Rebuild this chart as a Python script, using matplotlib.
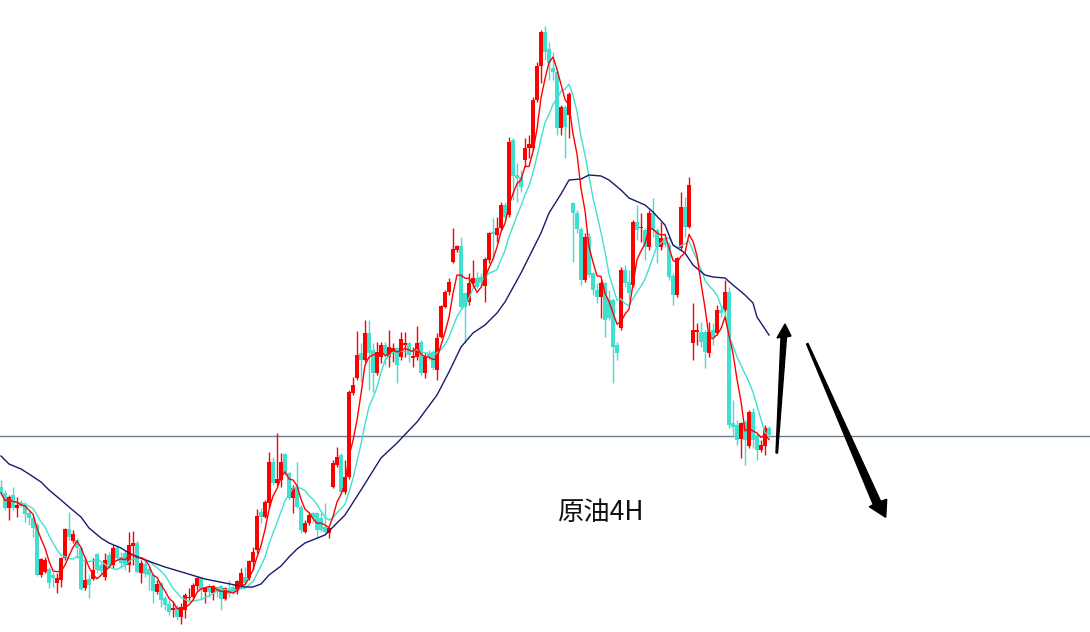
import numpy as np
import pandas as pd
import matplotlib
matplotlib.use("Agg")
import matplotlib.pyplot as plt
from matplotlib.patches import Polygon

plt.rcParams['font.family'] = ['Noto Sans CJK SC', 'DejaVu Sans']

# 4H candles, price in chart points
opens = [145, 139, 124, 137, 124, 129, 127, 119, 114, 107,
         57, 60, 63, 57, 49, 52, 74, 103, 91, 92,
         84, 44, 53, 53, 78, 67, 55, 77, 67, 84,
         75, 79, 67, 86, 89, 59, 68, 63, 57, 40,
         49, 34, 28, 22, 25, 15, 22, 34, 35, 46,
         54, 40, 45, 39, 45, 46, 33, 43, 45, 41,
         45, 55, 54, 70, 82, 120, 115, 129, 170, 149,
         152, 178, 159, 134, 144, 125, 100, 109, 119, 119,
         114, 105, 99, 145, 167, 177, 140, 155, 239, 254,
         279, 272, 299, 282, 259, 275, 287, 275, 280, 284,
         275, 287, 289, 274, 275, 290, 259, 279, 280, 262,
         295, 325, 340, 370, 382, 386, 339, 330, 349, 354,
         355, 346, 372, 400, 397, 404, 427, 417, 492, 457,
         455, 472, 484, 484, 532, 566, 600, 583, 564, 560,
         504, 525, 517, 429, 419, 403, 352, 395, 359, 342,
         335, 349, 332, 332, 287, 304, 362, 350, 347, 410,
         404, 402, 385, 419, 402, 385, 394, 387, 356, 337,
         384, 425, 405, 289, 300, 300, 300, 279, 302, 299,
         322, 322, 340, 209, 207, 193, 210, 186, 220, 197,
         182, 186, 204]
highs = [152, 142, 137, 145, 135, 132, 130, 122, 117, 109,
         74, 75, 65, 60, 59, 75, 104, 120, 102, 94,
         85, 74, 57, 74, 79, 70, 79, 80, 87, 87,
         80, 82, 100, 101, 91, 72, 72, 66, 59, 52,
         50, 36, 32, 30, 27, 29, 39, 44, 49, 55,
         55, 45, 48, 47, 46, 47, 45, 52, 47, 52,
         64, 65, 72, 85, 123, 124, 132, 180, 175, 199,
         179, 179, 160, 147, 170, 127, 112, 120, 120, 120,
         119, 129, 105, 172, 185, 179, 172, 242, 255, 301,
         289, 312, 312, 289, 290, 290, 290, 302, 289, 285,
         300, 300, 290, 285, 306, 292, 279, 282, 282, 299,
         327, 342, 354, 404, 387, 395, 340, 359, 372, 360,
         359, 375, 400, 414, 415, 430, 430, 495, 494, 469,
         462, 494, 497, 535, 570, 602, 606, 590, 580, 562,
         527, 527, 540, 430, 422, 405, 399, 399, 360, 349,
         352, 350, 342, 334, 290, 365, 367, 362, 412, 427,
         419, 404, 422, 434, 404, 410, 399, 390, 359, 375,
         440, 435, 455, 329, 309, 310, 302, 310, 309, 327,
         327, 352, 345, 232, 212, 210, 212, 222, 224, 199,
         192, 207, 206]
lows = [137, 122, 112, 122, 115, 125, 110, 107, 95, 56,
        55, 59, 44, 45, 39, 45, 72, 92, 89, 74,
        42, 42, 34, 52, 59, 57, 52, 64, 64, 72,
        64, 62, 60, 67, 59, 49, 55, 42, 29, 38,
        25, 22, 17, 15, 12, 8, 14, 32, 32, 42,
        32, 29, 35, 32, 35, 22, 32, 35, 38, 38,
        44, 47, 52, 62, 79, 109, 114, 125, 147, 147,
        145, 157, 132, 119, 124, 99, 99, 107, 109, 95,
        100, 99, 94, 144, 165, 138, 138, 153, 237, 252,
        250, 270, 242, 240, 257, 269, 267, 265, 270, 249,
        272, 275, 270, 265, 272, 257, 254, 272, 262, 252,
        294, 324, 337, 369, 380, 324, 289, 327, 345, 344,
        345, 330, 369, 372, 390, 402, 412, 415, 432, 430,
        440, 465, 474, 482, 530, 549, 572, 552, 552, 497,
        497, 474, 494, 370, 399, 347, 350, 355, 337, 329,
        314, 295, 312, 249, 272, 302, 345, 332, 345, 392,
        390, 372, 382, 395, 369, 382, 385, 352, 327, 335,
        382, 395, 404, 272, 287, 285, 264, 275, 287, 297,
        315, 320, 204, 195, 187, 174, 167, 184, 184, 172,
        180, 177, 194]
closes = [139, 124, 135, 124, 127, 126, 118, 114, 104, 57,
          73, 72, 49, 54, 54, 74, 103, 95, 98, 84,
          43, 52, 47, 62, 62, 61, 72, 67, 84, 74,
          69, 67, 87, 89, 60, 69, 58, 57, 41, 48,
          32, 27, 20, 24, 15, 25, 37, 35, 47, 54,
          42, 44, 40, 46, 40, 33, 44, 38, 40, 51,
          59, 49, 71, 80, 116, 115, 130, 170, 149, 153,
          170, 159, 134, 144, 125, 102, 109, 117, 114, 102,
          102, 100, 104, 169, 175, 140, 155, 240, 247, 277,
          272, 299, 279, 259, 280, 287, 277, 285, 284, 267,
          293, 289, 277, 276, 289, 259, 275, 275, 264, 294,
          326, 340, 350, 383, 386, 325, 325, 349, 354, 345,
          350, 373, 399, 398, 404, 427, 415, 490, 456, 454,
          445, 484, 488, 532, 566, 600, 580, 569, 560, 504,
          525, 505, 538, 419, 403, 352, 395, 357, 342, 335,
          349, 312, 314, 285, 279, 362, 349, 339, 410, 402,
          405, 385, 419, 402, 385, 394, 387, 355, 337, 374,
          425, 405, 447, 302, 302, 290, 280, 300, 295, 322,
          319, 340, 207, 205, 192, 209, 192, 220, 192, 182,
          187, 204, 197]

# long moving average at these bars
slow_idx = [0, 2, 5, 7, 10, 12, 15, 17, 20, 22, 25, 27, 30, 32, 36, 41, 46, 51, 56, 61,
            63, 65, 67, 70, 72, 74, 76, 81, 86, 90, 95, 99, 104, 109, 112, 115, 118, 121, 124, 126,
            130, 135, 137, 140, 142, 145, 147, 150, 152, 155, 157, 161, 163, 166, 168, 171, 173, 176, 178, 181,
            183, 186, 188, 189, 192]
slow_ma = [176, 168, 163, 158, 150, 142, 132, 125, 115, 104, 94, 89, 84, 79, 72, 65, 59, 53, 49, 45,
           45, 48, 57, 66, 75, 83, 89, 97, 117, 142, 174, 189, 210, 237, 260, 285, 299, 307, 319, 330,
           359, 399, 419, 438, 452, 453, 457, 456, 452, 442, 434, 427, 420, 407, 387, 379, 367, 357, 355, 354,
           347, 337, 329, 315, 297]

support = 196
label = "原油4H"

UP = "#ff0000"
DOWN = "#40e0d0"

o = np.array(opens, float)
h = np.array(highs, float)
l = np.array(lows, float)
c = np.array(closes, float)
x = np.arange(len(c))
cols = np.where(c >= o, UP, DOWN)

fig = plt.figure(figsize=(10.9, 6.32), dpi=100)
ax = fig.add_axes([0, 0, 1, 1])
ax.axis("off")
ax.set_xlim(-0.25, 272.25)
ax.set_ylim(0, 632)

ax.axhline(support, color="#6d7d8e", lw=1.0, zorder=1)

ax.vlines(x, l, h, colors=cols, lw=1.0, zorder=2)
ax.bar(x, np.maximum(np.abs(c - o), 1.0), bottom=np.minimum(o, c), width=0.78,
       color=cols, linewidth=0, zorder=3)

s = pd.Series(c)
ax.plot(x, s.rolling(10, min_periods=1).mean(), color=DOWN, lw=1.0, zorder=4)
ax.plot(x, s.rolling(5, min_periods=1).mean(), color=UP, lw=1.0, zorder=5)
ax.plot(slow_idx, slow_ma, color="#191970", lw=1.0, zorder=4)

# overlay in pixel space for the hand-drawn arrows and label
ov = fig.add_axes([0, 0, 1, 1])
ov.set_xlim(0, 1090)
ov.set_ylim(632, 0)
ov.axis("off")
ov.patch.set_alpha(0)

up_arrow = [(776, 453), (781, 337), (777, 338), (785, 324), (791, 336), (786.5, 337), (777.5, 453)]
down_arrow = [(806.5, 344), (873.3, 504.6), (869.3, 506.7), (885.7, 517.3),
              (886.7, 499.3), (880.7, 501.4), (808, 343.5)]
ov.add_patch(Polygon(up_arrow, closed=True, color="black"))
ov.add_patch(Polygon(down_arrow, closed=True, color="black"))

ov.text(600, 512, label, fontsize=19, color="#111111", ha="center", va="center")

fig.savefig("out.png", dpi=100)
